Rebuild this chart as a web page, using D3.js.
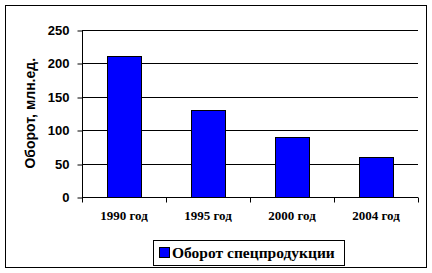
<!DOCTYPE html>
<html>
<head>
<meta charset="utf-8">
<script src="https://cdn.jsdelivr.net/npm/d3@7"></script>
<style>
  body { margin: 0; background: #fff; }
  svg { display: block; }
</style>
</head>
<body>
<div id="chart"></div>
<script>
// chart data
const categories = ["1990 год", "1995 год", "2000 год", "2004 год"];
const values = [210, 130, 90, 60];
const yTicks = [0, 50, 100, 150, 200, 250];
const seriesName = "Оборот спецпродукции";
const yTitle = "Оборот, млн.ед.";

const width = 432, height = 273;
const plot = { left: 82, right: 418, top: 29.5, bottom: 197 };

const svg = d3.select('#chart')
    .append('svg')
    .attr('width', width)
    .attr('height', height);

// outer frame
svg.append('rect')
    .attr('x', 5.5).attr('y', 5.5)
    .attr('width', 421).attr('height', 262)
    .attr('fill', '#fff')
    .attr('stroke', '#000')
    .attr('stroke-width', 1);

const x = d3.scaleBand()
    .domain(categories)
    .range([plot.left, plot.right])
    .paddingInner(0.6)
    .paddingOuter(0.3);

const xBand = d3.scaleBand()
    .domain(categories)
    .range([plot.left, plot.right]);

const y = d3.scaleLinear()
    .domain([0, 250])
    .range([plot.bottom, plot.top]);

// gridlines
svg.append('g')
    .selectAll('line')
    .data(yTicks.filter(d => d > 0))
    .enter().append('line')
    .attr('x1', plot.left).attr('x2', plot.right)
    .attr('y1', d => Math.round(y(d)) + 0.5)
    .attr('y2', d => Math.round(y(d)) + 0.5)
    .attr('stroke', '#000');

// bars
svg.append('g')
    .selectAll('rect')
    .data(values)
    .enter().append('rect')
    .attr('x', (d, i) => Math.round(x(categories[i])) + 0.5)
    .attr('y', d => Math.round(y(d)) + 0.5)
    .attr('width', Math.round(x.bandwidth()))
    .attr('height', d => Math.round(y(0)) - Math.round(y(d)))
    .attr('fill', '#0000ff')
    .attr('stroke', '#000');

// y axis
const yAxis = svg.append('g')
    .attr('transform', `translate(${plot.left + 0.5},0.5)`)
    .call(d3.axisLeft(y).tickValues(yTicks).tickSize(5).tickPadding(8))
    .call(g => g.select('.domain').attr('d', `M0,${Math.round(y(250))}V${Math.round(y(0))}`));
yAxis.selectAll('line').attr('transform', (d) => `translate(0,${Math.round(y(d)) - y(d)})`);
yAxis.selectAll('text')
    .attr('font-family', '"Liberation Sans", Arial, sans-serif')
    .attr('font-weight', 'bold')
    .attr('font-size', '13px')
    .attr('fill', '#000');

// x axis
const xAxis = svg.append('g')
    .attr('transform', `translate(0,${Math.round(y(0)) + 0.5})`);
xAxis.append('line')
    .attr('x1', plot.left).attr('x2', plot.right)
    .attr('stroke', '#000');
xAxis.selectAll('.tick')
    .data(categories.concat([null]))
    .enter().append('line')
    .attr('x1', (d, i) => Math.round(i < categories.length ? xBand(d) : plot.right) + 0.5)
    .attr('x2', (d, i) => Math.round(i < categories.length ? xBand(d) : plot.right) + 0.5)
    .attr('y1', 0).attr('y2', 5)
    .attr('stroke', '#000');
xAxis.selectAll('text')
    .data(categories)
    .enter().append('text')
    .attr('x', d => xBand(d) + xBand.bandwidth() / 2)
    .attr('y', 22)
    .attr('text-anchor', 'middle')
    .attr('font-family', '"Liberation Serif", "Times New Roman", serif')
    .attr('font-weight', 'bold')
    .attr('font-size', '13px')
    .text(d => d);

// y title
svg.append('text')
    .attr('transform', `translate(35,${(plot.top + plot.bottom) / 2}) rotate(-90)`)
    .attr('text-anchor', 'middle')
    .attr('font-family', '"Liberation Sans", Arial, sans-serif')
    .attr('font-weight', 'bold')
    .attr('font-size', '14px')
    .text(yTitle);

// legend
const legend = svg.append('g');
legend.append('rect')
    .attr('x', 153.5).attr('y', 240.5)
    .attr('width', 191).attr('height', 25)
    .attr('fill', '#fff').attr('stroke', '#000');
legend.append('rect')
    .attr('x', 159.5).attr('y', 247.5)
    .attr('width', 10).attr('height', 10)
    .attr('fill', '#0000ff').attr('stroke', '#000');
legend.append('text')
    .attr('x', 172).attr('y', 258)
    .attr('font-family', '"Liberation Serif", "Times New Roman", serif')
    .attr('font-weight', 'bold')
    .attr('font-size', '15.5px')
    .text(seriesName);
</script>
</body>
</html>
